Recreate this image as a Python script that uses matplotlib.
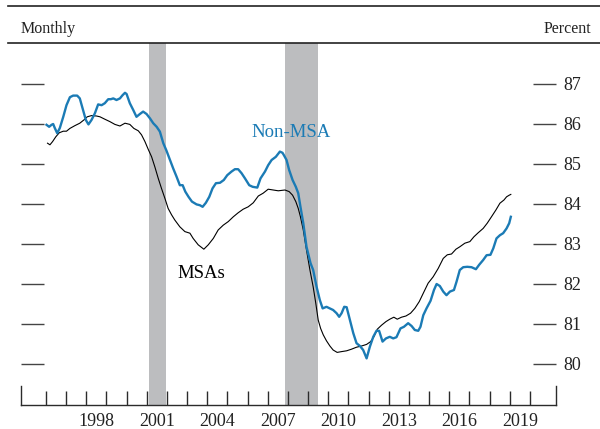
import matplotlib
matplotlib.use('Agg')
import matplotlib.pyplot as plt
from matplotlib.lines import Line2D

plt.rcParams['font.family'] = ['Liberation Serif', 'DejaVu Serif']

# ---- data ----
nonmsa_dates = [1996.03, 1996.16, 1996.28, 1996.36, 1996.44, 1996.56, 1996.69, 1996.86,
                1997.02, 1997.19, 1997.35, 1997.55, 1997.68, 1997.82, 1997.98, 1998.11,
                1998.26, 1998.43, 1998.59, 1998.76, 1998.92, 1999.09, 1999.22, 1999.34,
                1999.50, 1999.67, 1999.80, 1999.92, 2000.00, 2000.16, 2000.33, 2000.49,
                2000.66, 2000.82, 2000.99, 2001.16, 2001.32, 2001.49, 2001.65, 2001.82,
                2001.98, 2002.15, 2002.31, 2002.48, 2002.64, 2002.78, 2002.91, 2003.07,
                2003.24, 2003.47, 2003.63, 2003.77, 2003.93, 2004.10, 2004.26, 2004.43,
                2004.63, 2004.82, 2004.99, 2005.20, 2005.37, 2005.53, 2005.70, 2005.87,
                2006.08, 2006.25, 2006.48, 2006.64, 2006.86, 2007.02, 2007.19, 2007.40,
                2007.60, 2007.73, 2007.80, 2007.93, 2008.06, 2008.23, 2008.39, 2008.51,
                2008.62, 2008.76, 2008.92, 2009.12, 2009.25, 2009.42, 2009.58, 2009.72,
                2009.91, 2010.08, 2010.24, 2010.41, 2010.54, 2010.66, 2010.79, 2010.91,
                2011.07, 2011.24, 2011.40, 2011.57, 2011.73, 2011.90, 2012.06, 2012.23,
                2012.39, 2012.52, 2012.69, 2012.86, 2013.05, 2013.22, 2013.38, 2013.58,
                2013.75, 2013.96, 2014.13, 2014.29, 2014.46, 2014.57, 2014.71, 2014.87,
                2015.07, 2015.24, 2015.37, 2015.53, 2015.70, 2015.86, 2016.03, 2016.23,
                2016.36, 2016.52, 2016.69, 2016.89, 2017.10, 2017.32, 2017.48, 2017.68,
                2017.85, 2018.04, 2018.18, 2018.34, 2018.51, 2018.67, 2018.84, 2018.97,
                2019.05]
nonmsa_values = [85.98, 85.93, 85.98, 86.00, 85.90, 85.77, 85.90, 86.18,
                 86.47, 86.67, 86.71, 86.71, 86.64, 86.39, 86.10, 85.99,
                 86.10, 86.27, 86.49, 86.47, 86.52, 86.62, 86.62, 86.64,
                 86.60, 86.64, 86.72, 86.78, 86.75, 86.52, 86.35, 86.18,
                 86.25, 86.31, 86.25, 86.14, 86.02, 85.93, 85.81, 85.52,
                 85.33, 85.10, 84.89, 84.68, 84.47, 84.47, 84.31, 84.18,
                 84.06, 83.99, 83.97, 83.93, 84.03, 84.18, 84.39, 84.52,
                 84.53, 84.60, 84.72, 84.81, 84.87, 84.87, 84.77, 84.64,
                 84.47, 84.43, 84.41, 84.64, 84.81, 84.97, 85.10, 85.18,
                 85.31, 85.28, 85.22, 85.10, 84.85, 84.60, 84.43, 84.27,
                 83.93, 83.52, 82.93, 82.52, 82.35, 81.93, 81.60, 81.39,
                 81.43, 81.39, 81.35, 81.27, 81.18, 81.27, 81.43, 81.42,
                 81.10, 80.77, 80.52, 80.45, 80.35, 80.14, 80.43, 80.68,
                 80.83, 80.83, 80.56, 80.64, 80.68, 80.64, 80.67, 80.89,
                 80.93, 81.02, 80.95, 80.85, 80.83, 80.93, 81.22, 81.39,
                 81.58, 81.85, 82.00, 81.95, 81.81, 81.72, 81.81, 81.85,
                 82.06, 82.35, 82.42, 82.43, 82.42, 82.37, 82.48, 82.60,
                 82.72, 82.73, 82.89, 83.14, 83.22, 83.27, 83.39, 83.52,
                 83.68]

msa_dates = [1996.08, 1996.20, 1996.33, 1996.49, 1996.66, 1996.86, 1997.02, 1997.19,
             1997.44, 1997.68, 1997.88, 1998.05, 1998.26, 1998.51, 1998.68, 1998.92,
             1999.17, 1999.42, 1999.67, 1999.92, 2000.16, 2000.36, 2000.58, 2000.74,
             2000.91, 2001.07, 2001.24, 2001.40, 2001.57, 2001.73, 2001.90, 2002.06,
             2002.23, 2002.39, 2002.64, 2002.89, 2003.14, 2003.30, 2003.55, 2003.83,
             2004.05, 2004.30, 2004.54, 2004.79, 2005.04, 2005.29, 2005.53, 2005.78,
             2006.03, 2006.28, 2006.53, 2006.77, 2007.02, 2007.27, 2007.52, 2007.85,
             2008.06, 2008.23, 2008.39, 2008.51, 2008.62, 2008.76, 2008.92, 2009.09,
             2009.25, 2009.38, 2009.50, 2009.62, 2009.75, 2009.91, 2010.08, 2010.24,
             2010.44, 2010.66, 2010.91, 2011.15, 2011.40, 2011.65, 2011.90, 2012.10,
             2012.26, 2012.43, 2012.64, 2012.86, 2013.05, 2013.25, 2013.42, 2013.63,
             2013.85, 2014.08, 2014.29, 2014.51, 2014.71, 2014.95, 2015.20, 2015.45,
             2015.70, 2015.90, 2016.11, 2016.33, 2016.52, 2016.77, 2017.02, 2017.22,
             2017.43, 2017.68, 2017.88, 2018.09, 2018.31, 2018.51, 2018.71, 2018.84,
             2018.97, 2019.05]
msa_values = [85.52, 85.48, 85.56, 85.68, 85.78, 85.82, 85.82, 85.89,
              85.96, 86.02, 86.10, 86.18, 86.21, 86.20, 86.18, 86.12,
              86.06, 85.99, 85.95, 86.02, 85.99, 85.89, 85.83, 85.73,
              85.56, 85.37, 85.18, 84.93, 84.64, 84.39, 84.14, 83.89,
              83.73, 83.60, 83.43, 83.31, 83.27, 83.14, 82.98, 82.87,
              82.98, 83.14, 83.35, 83.47, 83.56, 83.68, 83.78, 83.87,
              83.93, 84.03, 84.20, 84.27, 84.37, 84.35, 84.33, 84.35,
              84.31, 84.22, 84.06, 83.89, 83.68, 83.35, 82.85, 82.35,
              81.93, 81.52, 81.10, 80.89, 80.73, 80.58, 80.45, 80.35,
              80.29, 80.31, 80.33, 80.37, 80.42, 80.45, 80.49, 80.56,
              80.68, 80.87, 80.97, 81.06, 81.12, 81.17, 81.12, 81.17,
              81.20, 81.27, 81.39, 81.56, 81.77, 82.02, 82.18, 82.39,
              82.64, 82.73, 82.75, 82.87, 82.93, 83.02, 83.06, 83.18,
              83.28, 83.39, 83.52, 83.68, 83.85, 84.02, 84.10, 84.18,
              84.22, 84.24]

recession_starts = [2001.13, 2007.86]
recession_ends = [2001.95, 2009.51]

year_ticks = list(range(1996, 2021))
year_labels = [1998, 2001, 2004, 2007, 2010, 2013, 2016, 2019]
y_ticks = [80, 81, 82, 83, 84, 85, 86, 87]

# ---- figure ----
W, H = 600, 429
fig = plt.figure(figsize=(W / 100, H / 100), dpi=100)
x0, x1 = 20.7, 556.0
yt, yb = 43.0, 405.0
ax = fig.add_axes([x0 / W, 1 - yb / H, (x1 - x0) / W, (yb - yt) / H])

xlim = (1994.75, 2021.29)
ylim = (78.975, 88.025)
ax.set_xlim(*xlim)
ax.set_ylim(*ylim)

blue = '#1b7bb5'
gray_bar = '#bcbdbf'
dark = '#2b2b2b'

for s, e in zip(recession_starts, recession_ends):
    ax.axvspan(s, e, color=gray_bar, lw=0, zorder=1)

ax.plot(msa_dates, msa_values, color='black', lw=0.8, zorder=3)
ax.plot(nonmsa_dates, nonmsa_values, color=blue, lw=1.7, zorder=4)

# spines
for side in ['left', 'right', 'top']:
    ax.spines[side].set_visible(False)
ax.spines['bottom'].set_color(dark)
ax.spines['bottom'].set_linewidth(1.0)

# y ticks: inward on both sides, labels on right
ax.set_yticks(y_ticks)
ax.set_yticklabels([str(v) for v in y_ticks])
ax.tick_params(axis='y', which='major', direction='in', length=16.8, width=1.0,
               color='#444444', left=True, right=True, labelleft=False,
               labelright=True, labelsize=13, pad=5, labelcolor='#222222')

# x ticks: inward at each year, labels centred mid-year
ax.set_xticks(year_ticks)
ax.set_xticklabels([])
ax.set_xticks([y + 0.5 for y in year_labels], minor=True)
ax.set_xticklabels([str(y) for y in year_labels], minor=True)
ax.tick_params(axis='x', which='major', direction='in', length=10, width=1.0,
               color=dark)
ax.tick_params(axis='x', which='minor', length=0, labelsize=13, pad=5.5,
               labelcolor='#222222')

# taller end ticks at both ends of the axis
for xe in xlim:
    ax.axvline(xe, ymin=0, ymax=19 / (yb - yt), color=dark, lw=1.0,
               clip_on=False, zorder=5)

# series labels
ax.text(2006.21, 85.675, 'Non-MSA', color=blue, fontsize=13.5, va='baseline',
        ha='left', zorder=6)
ax.text(2002.54, 82.15, 'MSAs', color='black', fontsize=13.5, va='baseline',
        ha='left', zorder=6)

# header rules and labels
fig.add_artist(Line2D([8 / W, 1], [1 - 6 / H, 1 - 6 / H], color='#222222', lw=1.2))
fig.add_artist(Line2D([8 / W, 1], [1 - 42.7 / H, 1 - 42.7 / H], color='#222222', lw=1.2))
fig.text(21 / W, 1 - 33.3 / H, 'Monthly', fontsize=11.5, va='baseline', ha='left',
         color='#222222')
fig.text(591 / W, 1 - 33.3 / H, 'Percent', fontsize=11.5, va='baseline', ha='right',
         color='#222222')

fig.savefig('out.png', dpi=100)
